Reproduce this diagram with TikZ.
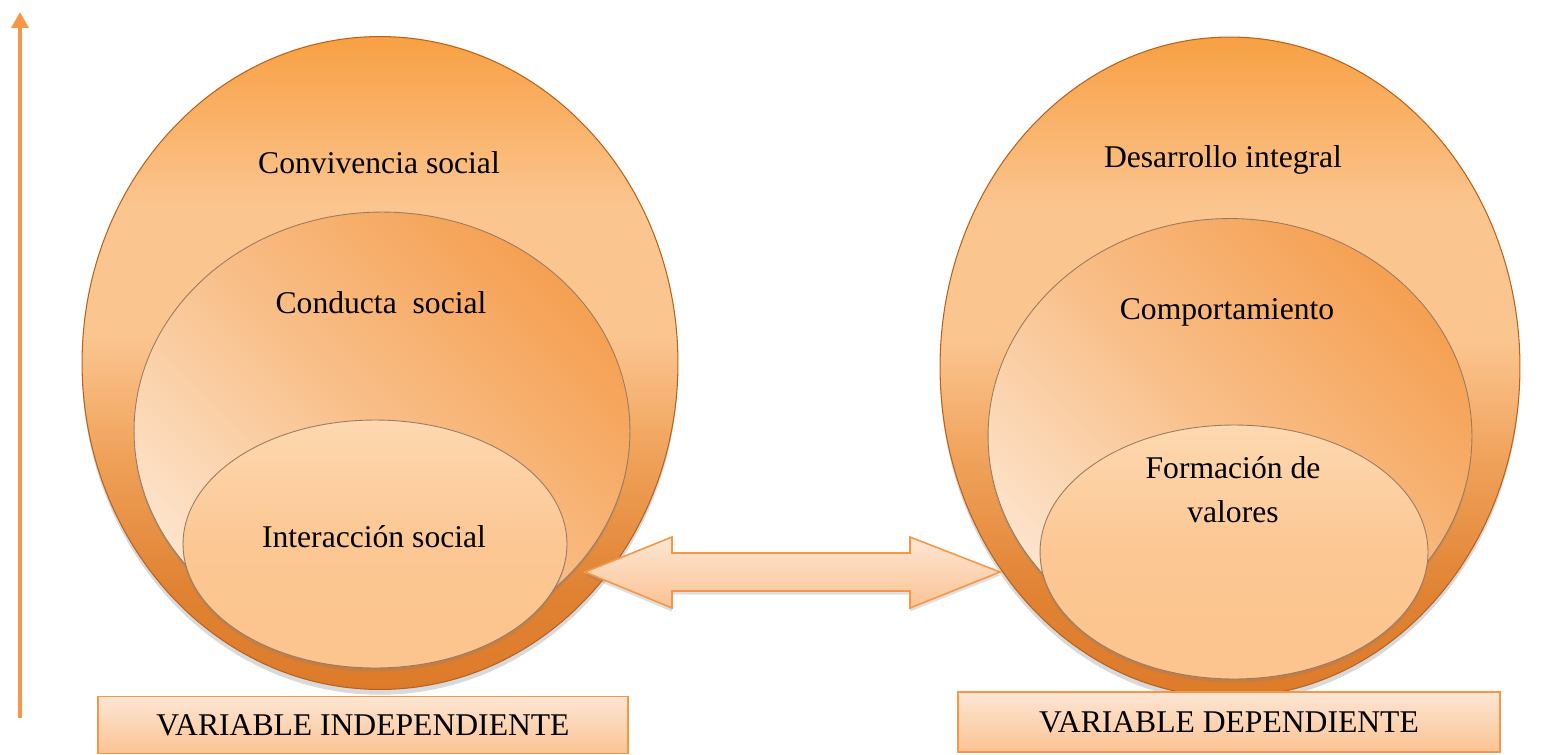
\documentclass[tikz,border=0pt]{standalone}
\usepackage{fontspec}
\setmainfont{Liberation Serif}
\usepackage{tikz}
\usetikzlibrary{arrows.meta,shadows,shapes.geometric}

\definecolor{accent}{HTML}{F79646}
\definecolor{ballTop}{HTML}{F8A043}
\definecolor{ballMid}{HTML}{FBC590}
\definecolor{ballLow}{HTML}{F0A25A}
\definecolor{ballRim}{HTML}{DD7B2A}
\definecolor{ballLine}{HTML}{B8621E}
\definecolor{midLight}{HTML}{FDE4CC}
\definecolor{midDark}{HTML}{F5A052}
\definecolor{innerTop}{HTML}{FDD8B0}
\definecolor{innerBot}{HTML}{FCC48E}
\definecolor{innerLine}{HTML}{9C7A60}
\definecolor{boxTop}{HTML}{FDE6D4}
\definecolor{boxBot}{HTML}{FBC393}

\pgfdeclareverticalshading{outerball}{100bp}{color(0bp)=(ballRim); color(25bp)=(ballRim); color(33bp)=(ballRim!80!ballLow); color(43bp)=(ballLow); color(52bp)=(ballMid); color(62bp)=(ballMid); color(75bp)=(ballTop); color(100bp)=(ballTop)}

\tikzset{
	outerball/.style={ellipse, draw=ballLine, line width=0.6pt, shading=outerball,
		drop shadow={shadow xshift=0pt, shadow yshift=-3pt, opacity=0.3}},
	midball/.style={ellipse, draw=innerLine, line width=0.5pt, top color=midLight, bottom color=midDark, middle color=midDark!55!midLight, shading angle=135,
		drop shadow={shadow xshift=0pt, shadow yshift=-2pt, opacity=0.25}},
	innerball/.style={ellipse, draw=innerLine, line width=0.5pt, top color=innerTop, bottom color=innerBot, middle color=innerBot!85!innerTop,
		drop shadow={shadow xshift=0pt, shadow yshift=-2pt, opacity=0.25}},
	lbl/.style={font=\fontsize{18}{25}\selectfont, align=center},
	varbox/.style={rectangle, draw=accent, line width=0.9pt, top color=boxTop, bottom color=boxBot, font=\fontsize{18}{22}\selectfont}
}

\begin{document}
\begin{tikzpicture}[x=0.02cm, y=-0.02cm]
		\useasboundingbox (0,0) rectangle (1541,754);

		\coordinate (axisB) at (20,718);
		\coordinate (axisT) at (20,12);
		\draw[accent, line width=2pt, -{Triangle[width=0.34cm, length=0.32cm]}] (axisB) -- (axisT);

		\node[outerball, minimum width=11.92cm, minimum height=13.06cm] (outerL) at (380,363) {};
		\node[midball, minimum width=9.92cm, minimum height=8.76cm] (midL) at (382,431) {};
		\node[innerball, minimum width=7.68cm, minimum height=4.96cm] (innerL) at (375,544) {};

		\node[outerball, minimum width=11.6cm, minimum height=13.2cm] (outerR) at (1230,367) {};
		\node[midball, minimum width=9.68cm, minimum height=8.7cm] (midR) at (1230,436) {};
		\node[innerball, minimum width=7.76cm, minimum height=5.08cm] (innerR) at (1234,552) {};

		\node[lbl] (convivencia) at (379,163) {Convivencia social};
		\node[lbl] (conducta) at (381,303) {Conducta~ social};
		\node[lbl] (interaccion) at (374,537) {Interacción social};
		\node[lbl] (desarrollo) at (1223,160) {Desarrollo integral};
		\node[lbl] (comportamiento) at (1227,312) {Comportamiento};
		\node[lbl] (formacion) at (1233,490) {Formación de\\valores};

		\node[varbox, minimum width=10.6cm, minimum height=1.14cm] (indep) at (363,725) {VARIABLE INDEPENDIENTE};
		\node[varbox, minimum width=10.84cm, minimum height=1.2cm] (dep) at (1229,722) {VARIABLE DEPENDIENTE};

		\coordinate (tipL) at (585,572);
		\coordinate (tipR) at (1000,572);
		\draw[accent, line width=0.9pt, line join=miter, top color=boxTop, bottom color=boxBot,
			drop shadow={shadow xshift=0pt, shadow yshift=-2pt, opacity=0.25}]
			(tipL) -- ++(87,-35) -- ++(0,16) -- ++(238,0) -- ++(0,-16) -- (tipR)
			-- ++(-90,36) -- ++(0,-17) -- ++(-238,0) -- ++(0,17) -- cycle;
	\end{tikzpicture}
\end{document}
